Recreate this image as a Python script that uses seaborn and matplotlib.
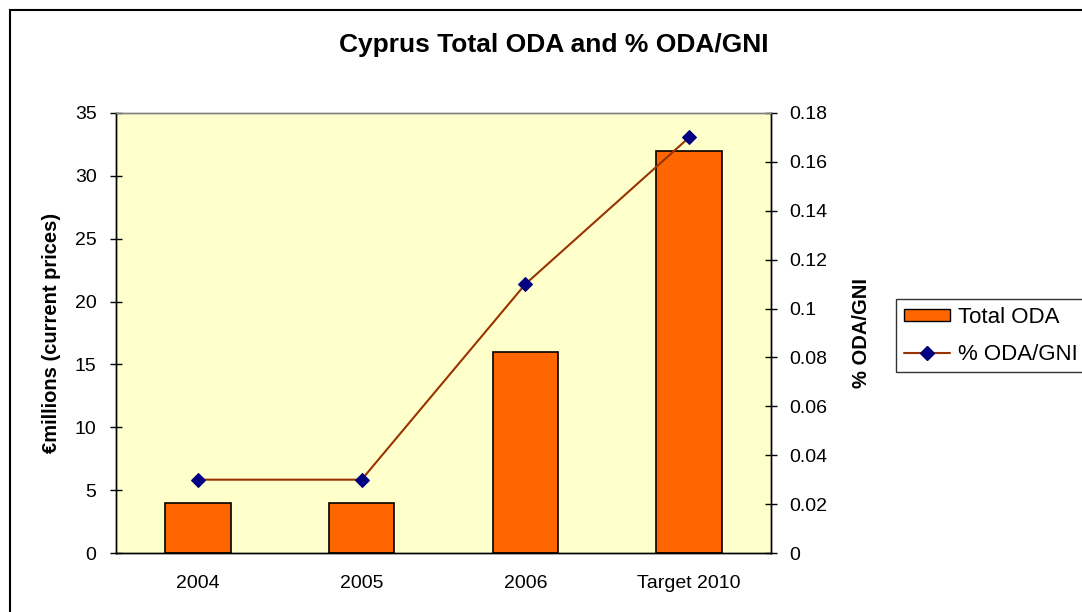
import matplotlib
matplotlib.use("Agg")
import matplotlib.pyplot as plt
import seaborn as sns
import pandas as pd
from matplotlib.patches import Patch, Rectangle
from matplotlib.lines import Line2D

# Data
years = ["2004", "2005", "2006", "Target 2010"]
total_oda = [4, 4, 16, 32]
pct_oda_gni = [0.03, 0.03, 0.11, 0.17]

df = pd.DataFrame({"year": years, "oda": total_oda, "pct": pct_oda_gni})

sns.set_style("white")
plt.rcParams["font.family"] = ["Liberation Sans", "DejaVu Sans"]
plt.rcParams["text.color"] = "black"
plt.rcParams["axes.labelcolor"] = "black"
plt.rcParams["xtick.color"] = "black"
plt.rcParams["ytick.color"] = "black"

fig = plt.figure(figsize=(10.82, 6.12), dpi=100)
ax = fig.add_axes([0.1072, 0.0964, 0.6054, 0.719])
ax.set_facecolor("#FFFFCC")

sns.barplot(data=df, x="year", y="oda", color="#FF6600", edgecolor="black",
            linewidth=1.2, width=0.4, saturation=1, ax=ax)

ax2 = ax.twinx()
sns.lineplot(data=df, x="year", y="pct", color="#993300", lw=1.5, marker="D",
             markersize=7, markerfacecolor="#000080", markeredgecolor="#000080", ax=ax2)

ax.set_xlim(-0.5, 3.5)
ax.set_ylim(0, 35)
ax2.set_ylim(0, 0.18)
ax.set_yticks(range(0, 36, 5))
ax2.set_yticks([0, 0.02, 0.04, 0.06, 0.08, 0.1, 0.12, 0.14, 0.16, 0.18])
ax2.set_yticklabels(["0", "0.02", "0.04", "0.06", "0.08", "0.1", "0.12", "0.14", "0.16", "0.18"])

ax.set_xticks([-0.5, 0.5, 1.5, 2.5, 3.5], minor=True)
ax.tick_params(axis="x", which="major", length=0, labelsize=14, pad=16)
ax.tick_params(axis="x", which="minor", length=8, direction="inout", width=1)
ax.tick_params(axis="y", length=8, direction="inout", width=1, labelsize=14, left=True, pad=10)
ax2.tick_params(axis="y", length=8, direction="inout", width=1, labelsize=14, right=True, pad=9)

ax.set_xlabel("")
ax.set_ylabel("€millions (current prices)", fontsize=14.5, fontweight="bold", labelpad=10)
ax2.set_ylabel("% ODA/GNI", fontsize=14.5, fontweight="bold", labelpad=18)

for a in (ax, ax2):
    for s in a.spines.values():
        s.set_color("black")
        s.set_linewidth(1)
    a.spines["top"].set_color("#808080")

fig.text(0.512, 0.9265, "Cyprus Total ODA and % ODA/GNI", ha="center", va="center",
         fontsize=19, fontweight="bold")

handles = [Patch(facecolor="#FF6600", edgecolor="black", label="Total ODA"),
           Line2D([0], [0], color="#993300", marker="D", markersize=7,
                  markerfacecolor="#000080", markeredgecolor="#000080", label="% ODA/GNI")]
leg = fig.legend(handles=handles, loc="upper left", bbox_to_anchor=(0.828, 0.511),
                 fontsize=16, frameon=True, fancybox=False, handlelength=2.1,
                 handleheight=0.45, borderpad=0.35, labelspacing=0.7, handletextpad=0.35,
                 borderaxespad=0)
leg.get_frame().set_edgecolor("black")
leg.get_frame().set_linewidth(1)

fig.patches.append(Rectangle((10 / 1082, -0.05), 1.1, 1.05 - 10 / 612,
                             transform=fig.transFigure, fill=False, edgecolor="black",
                             linewidth=1.5, zorder=-1))

fig.savefig("out.png", dpi=100)
